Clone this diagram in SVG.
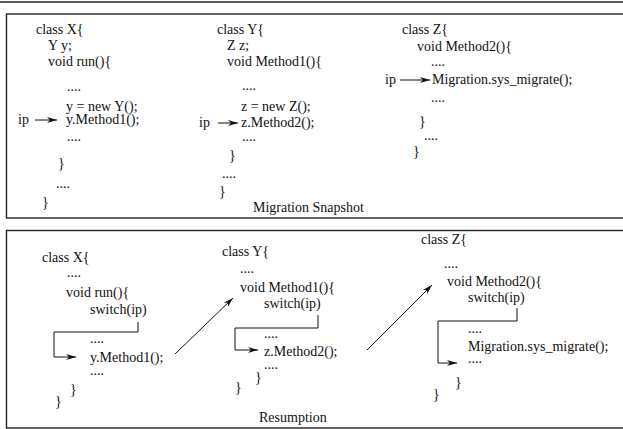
<svg xmlns="http://www.w3.org/2000/svg" width="623" height="429" viewBox="0 0 623 429">
<style>
text{font-family:"Liberation Serif","Times New Roman",serif;font-size:14px;fill:#111}
.frame{fill:none;stroke:#222;stroke-width:1.4}
.con{fill:none;stroke:#111;stroke-width:1}
</style>
<defs>
<marker id="ah" markerUnits="userSpaceOnUse" markerWidth="12" markerHeight="8" refX="10" refY="4" orient="auto">
<path d="M0,1 L10,4 L0,7 L3,4 z" fill="#111"/>
</marker>
</defs>
<rect width="623" height="429" fill="#fff"/>
<line x1="0" y1="2" x2="623" y2="2" class="frame"/>
<g id="panel-snapshot">
<rect x="6.5" y="14" width="630" height="204" class="frame"/>
<text x="253" y="212">Migration Snapshot</text>
</g>
<g id="panel-resumption">
<rect x="6.5" y="230.5" width="630" height="197.5" class="frame"/>
<text x="259" y="422">Resumption</text>
</g>
<g id="snap-x">
<text x="36" y="34">class X{</text>
<text x="48" y="50">Y y;</text>
<text x="48" y="66">void run(){</text>
<text x="67" y="91">....</text>
<text x="66" y="111">y = new Y();</text>
<text x="18" y="124">ip</text>
<text x="66" y="124">y.Method1();</text>
<text x="67" y="141">....</text>
<text x="58" y="168">}</text>
<text x="56" y="188">....</text>
<text x="42" y="207">}</text>
</g>
<g id="snap-y">
<text x="217" y="34">class Y{</text>
<text x="227" y="50">Z z;</text>
<text x="227" y="66">void Method1(){</text>
<text x="242" y="90">....</text>
<text x="241" y="111">z = new Z();</text>
<text x="199" y="127">ip</text>
<text x="241" y="127">z.Method2();</text>
<text x="242" y="141">....</text>
<text x="229" y="160">}</text>
<text x="222" y="178">....</text>
<text x="219" y="196">}</text>
</g>
<g id="snap-z">
<text x="402" y="34">class Z{</text>
<text x="417" y="51">void Method2(){</text>
<text x="431" y="66">....</text>
<text x="385" y="84">ip</text>
<text x="432" y="84">Migration.sys_migrate();</text>
<text x="431" y="102">....</text>
<text x="419" y="126">}</text>
<text x="424" y="140">....</text>
<text x="413" y="156">}</text>
</g>
<g id="res-x">
<text x="42" y="262">class X{</text>
<text x="67" y="277">....</text>
<text x="66" y="297">void run(){</text>
<text x="90" y="314">switch(ip)</text>
<text x="90" y="343">....</text>
<text x="90" y="362">y.Method1();</text>
<text x="90" y="375">....</text>
<text x="70" y="394">}</text>
<text x="55" y="406">}</text>
</g>
<g id="res-y">
<text x="222" y="256">class Y{</text>
<text x="240" y="273">....</text>
<text x="240" y="292">void Method1(){</text>
<text x="264" y="308">switch(ip)</text>
<text x="264" y="338">....</text>
<text x="264" y="356">z.Method2();</text>
<text x="264" y="369">....</text>
<text x="255" y="382">}</text>
<text x="235" y="392">}</text>
</g>
<g id="res-z">
<text x="421" y="244">class Z{</text>
<text x="444" y="268">....</text>
<text x="447" y="286">void Method2(){</text>
<text x="468" y="302">switch(ip)</text>
<text x="468" y="333">....</text>
<text x="468" y="351">Migration.sys_migrate();</text>
<text x="468" y="363">....</text>
<text x="455" y="387">}</text>
<text x="433" y="399">}</text>
</g>
<g id="connectors">
<line x1="35" y1="120" x2="57" y2="120" class="con" marker-end="url(#ah)"/>
<line x1="218" y1="123" x2="238" y2="123" class="con" marker-end="url(#ah)"/>
<line x1="400" y1="80" x2="430" y2="80" class="con" marker-end="url(#ah)"/>
<path d="M138,322 V332 H54 V357 H76" class="con" marker-end="url(#ah)"/>
<path d="M318,315 V328 H235 V350 H258" class="con" marker-end="url(#ah)"/>
<path d="M517,308 V321 H438 V363 H457" class="con" marker-end="url(#ah)"/>
<line x1="175" y1="354" x2="233" y2="298" class="con" marker-end="url(#ah)"/>
<line x1="367" y1="350" x2="432" y2="285" class="con" marker-end="url(#ah)"/>
</g>
</svg>
